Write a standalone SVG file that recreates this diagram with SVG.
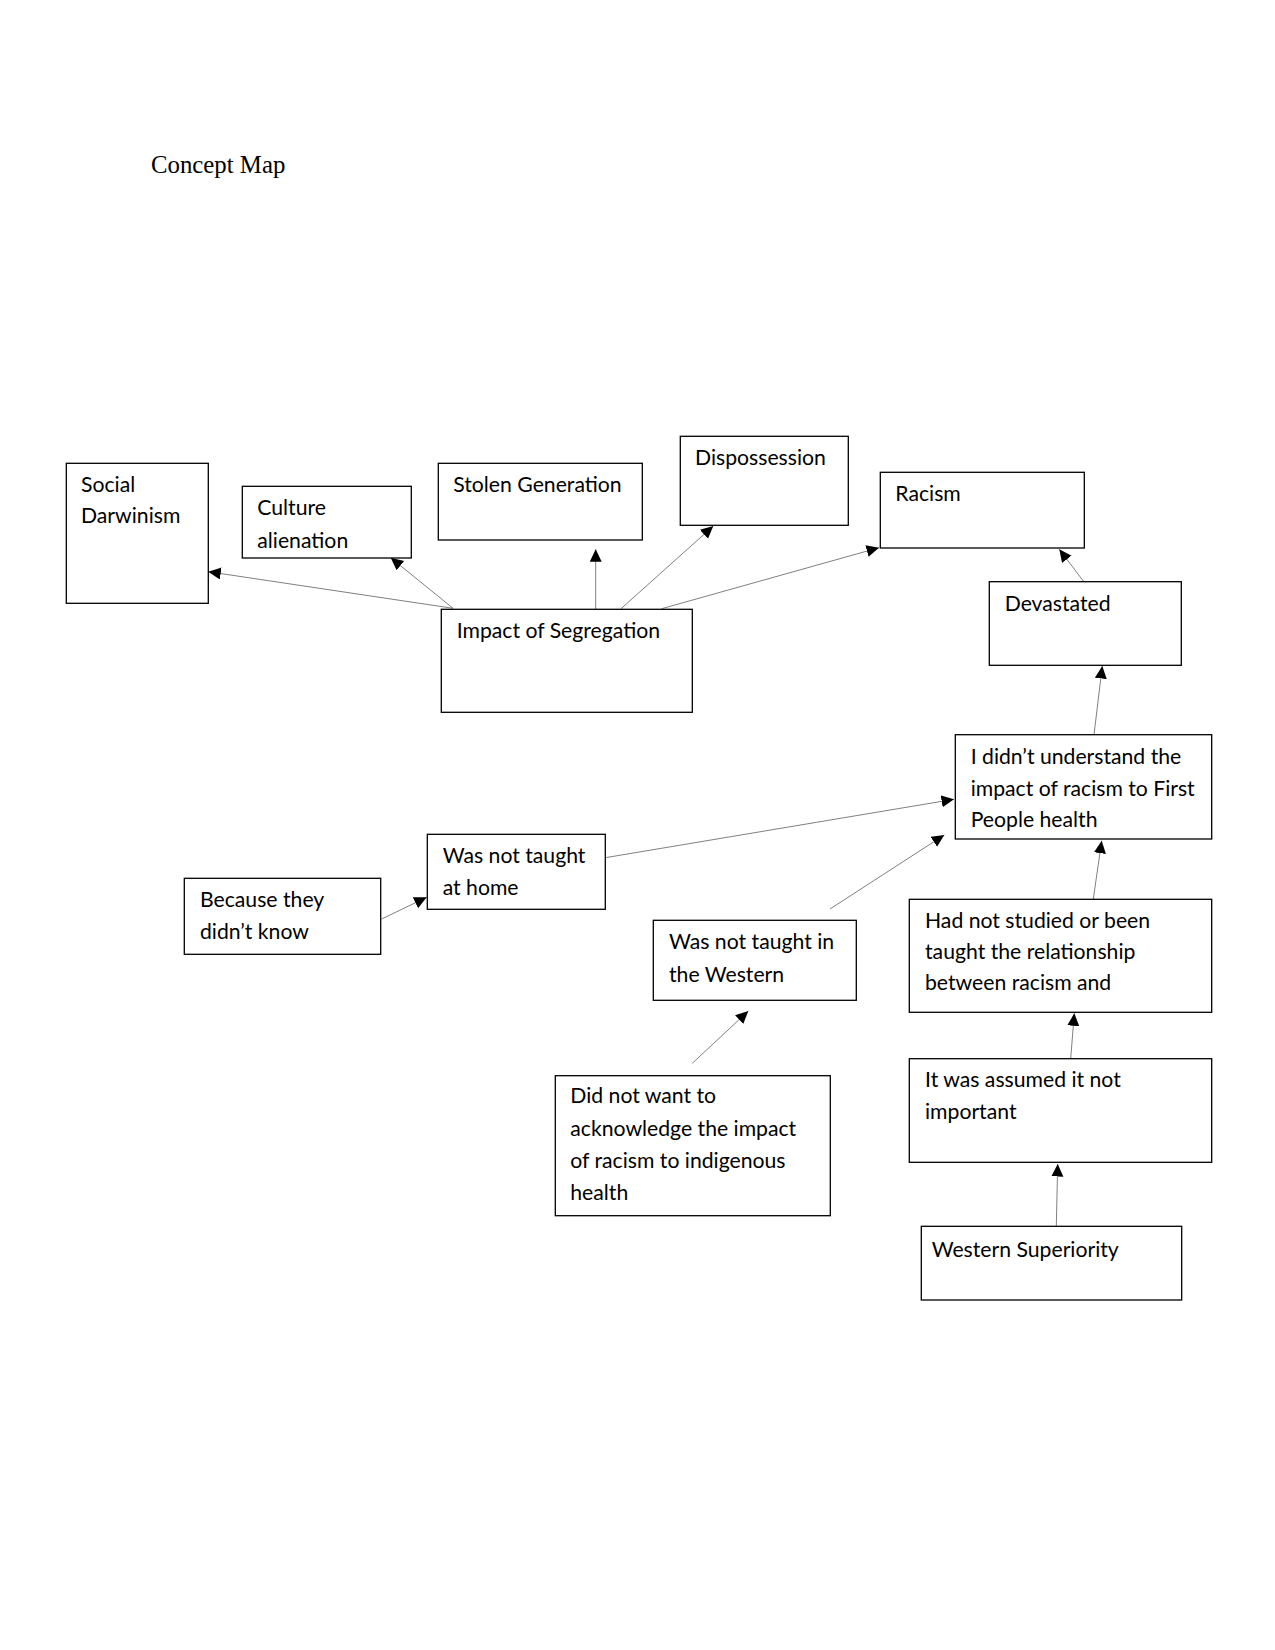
<svg xmlns="http://www.w3.org/2000/svg" width="1275" height="1650" viewBox="0 0 1275 1650">
<defs>
<style>
.box{fill:#fff;stroke:#000;stroke-width:1.3}
.t{font-family:Lato,"Open Sans","DejaVu Sans",sans-serif;font-size:21.2px;fill:#000}
.title{font-family:"Liberation Serif","Times New Roman",serif;font-size:24.8px;fill:#000}
.c{stroke:#808080;stroke-width:1;fill:none;marker-end:url(#ah)}
</style>
<marker id="ah" markerUnits="userSpaceOnUse" markerWidth="14" markerHeight="14" refX="12.5" refY="6" orient="auto">
<path d="M0,0 L12.5,6 L0,12 z" fill="#000"/>
</marker>
</defs>
<rect width="1275" height="1650" fill="#fff"/>
<text class="title" x="151" y="173.3">Concept Map</text>

<g id="connectors">
<line class="c" x1="453" y1="608.3" x2="208.3" y2="571.7"/>
<line class="c" x1="453" y1="608.3" x2="390.7" y2="557.7"/>
<line class="c" x1="595.7" y1="609" x2="595.7" y2="549.3"/>
<line class="c" x1="620.7" y1="609" x2="713.3" y2="526"/>
<line class="c" x1="661.7" y1="608.7" x2="879" y2="547.7"/>
<line class="c" x1="1083.3" y1="581" x2="1059.3" y2="549.3"/>
<line class="c" x1="1094" y1="734.7" x2="1102.3" y2="666"/>
<line class="c" x1="1093.3" y1="899" x2="1101.7" y2="840.7"/>
<line class="c" x1="1070.7" y1="1058.7" x2="1074.3" y2="1013.3"/>
<line class="c" x1="1056.3" y1="1226.3" x2="1057.7" y2="1164"/>
<line class="c" x1="381.7" y1="919" x2="426.7" y2="897.3"/>
<line class="c" x1="605.3" y1="857.7" x2="954" y2="799.3"/>
<line class="c" x1="830" y1="909" x2="944.3" y2="835"/>
<line class="c" x1="692.3" y1="1063.3" x2="748.3" y2="1011"/>
</g>

<g id="social-darwinism">
<rect class="box" x="66.3" y="463.3" width="142" height="140"/>
<text class="t" x="81" y="491.7">Social</text>
<text class="t" x="81" y="523.3">Darwinism</text>
</g>
<g id="culture-alienation">
<rect class="box" x="242.3" y="486.3" width="169" height="71.7"/>
<text class="t" x="257.3" y="515">Culture</text>
<text class="t" x="257.3" y="547.7">alienation</text>
</g>
<g id="stolen-generation">
<rect class="box" x="438.3" y="463.3" width="204" height="76.7"/>
<text class="t" x="453.3" y="491.7">Stolen Generation</text>
</g>
<g id="dispossession">
<rect class="box" x="680.3" y="436.3" width="168" height="89"/>
<text class="t" x="695" y="465">Dispossession</text>
</g>
<g id="racism">
<rect class="box" x="880.3" y="472.3" width="204" height="75.7"/>
<text class="t" x="895.3" y="500.7">Racism</text>
</g>
<g id="devastated">
<rect class="box" x="989.3" y="581.7" width="192" height="83.6"/>
<text class="t" x="1004.7" y="610.7">Devastated</text>
</g>
<g id="impact-of-segregation">
<rect class="box" x="441.3" y="609.3" width="251" height="103"/>
<text class="t" x="456.7" y="638.3">Impact of Segregation</text>
</g>
<g id="i-didnt-understand">
<rect class="box" x="955.3" y="734.7" width="256.4" height="104.3"/>
<text class="t" x="970.7" y="763.7">I didn’t understand the</text>
<text class="t" x="970.7" y="795.5">impact of racism to First</text>
<text class="t" x="970.7" y="827.3">People health</text>
</g>
<g id="had-not-studied">
<rect class="box" x="909.3" y="899.3" width="302.4" height="113"/>
<text class="t" x="925" y="928.3">Had not studied or been</text>
<text class="t" x="925" y="959.3">taught the relationship</text>
<text class="t" x="925" y="990.3">between racism and</text>
</g>
<g id="it-was-assumed">
<rect class="box" x="909.3" y="1058.7" width="302.4" height="103.6"/>
<text class="t" x="925" y="1086.7">It was assumed it not</text>
<text class="t" x="925" y="1119">important</text>
</g>
<g id="western-superiority">
<rect class="box" x="921.3" y="1226.3" width="260.4" height="73.7"/>
<text class="t" x="931.7" y="1256.7">Western Superiority</text>
</g>
<g id="because-they-didnt-know">
<rect class="box" x="184.3" y="878.3" width="196.4" height="76"/>
<text class="t" x="200" y="907.3">Because they</text>
<text class="t" x="200" y="939">didn’t know</text>
</g>
<g id="was-not-taught-at-home">
<rect class="box" x="427.3" y="834.3" width="178" height="75"/>
<text class="t" x="442.7" y="863.3">Was not taught</text>
<text class="t" x="442.7" y="895">at home</text>
</g>
<g id="was-not-taught-in-western">
<rect class="box" x="653.3" y="920.3" width="203" height="80"/>
<text class="t" x="669" y="949.3">Was not taught in</text>
<text class="t" x="669" y="981.7">the Western</text>
</g>
<g id="did-not-want">
<rect class="box" x="555.3" y="1075.7" width="275" height="140"/>
<text class="t" x="570.3" y="1103.3">Did not want to</text>
<text class="t" x="570.3" y="1136">acknowledge the impact</text>
<text class="t" x="570.3" y="1168.3">of racism to indigenous</text>
<text class="t" x="570.3" y="1200">health</text>
</g>
</svg>
